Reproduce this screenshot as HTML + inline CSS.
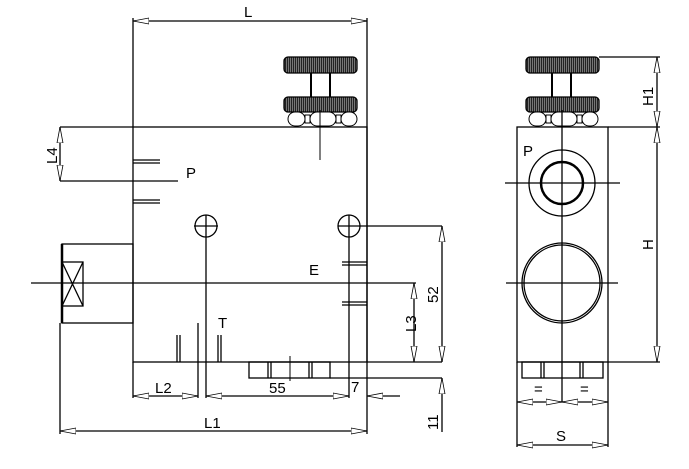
<!DOCTYPE html>
<html><head><meta charset="utf-8"><style>
html,body{margin:0;padding:0;background:#fff;width:689px;height:469px;overflow:hidden}
svg{display:block}
text{font-family:"Liberation Sans",sans-serif;font-size:15px;fill:#000}
</style></head><body>
<svg width="689" height="469" viewBox="0 0 689 469" xmlns="http://www.w3.org/2000/svg">
<defs>
<pattern id="kn" width="2" height="10" patternUnits="userSpaceOnUse"><rect width="2" height="10" fill="#222"/><rect width="0.7" height="10" fill="#999"/></pattern>
<marker id="a" markerWidth="16" markerHeight="8" refX="0" refY="4" orient="auto" markerUnits="userSpaceOnUse"><path d="M0,4 L16,1 L16,7 Z" fill="#fff" stroke="#000" stroke-width="0.8"/></marker>
<marker id="b" markerWidth="16" markerHeight="8" refX="16" refY="4" orient="auto" markerUnits="userSpaceOnUse"><path d="M16,4 L0,1 L0,7 Z" fill="#fff" stroke="#000" stroke-width="0.8"/></marker>
<g id="nuts" stroke="#000" stroke-width="1" fill="#fff">
<rect x="0" y="1" width="17" height="14" rx="7"/>
<rect x="17" y="4" width="5" height="8"/>
<rect x="22" y="1" width="26" height="14" rx="7"/>
<rect x="48" y="4" width="5" height="8"/>
<rect x="53" y="1" width="16" height="14" rx="7"/>
</g>
</defs>
<g stroke="#000" stroke-width="1.3" fill="none">
<!-- LEFT VIEW -->
<rect x="133" y="127" width="234" height="235"/>
<line x1="133" y1="18" x2="133" y2="127"/>
<line x1="367" y1="18" x2="367" y2="434"/>
<line x1="133" y1="21" x2="367" y2="21" marker-start="url(#a)" marker-end="url(#b)"/>
<!-- knob -->
<rect x="284" y="57" width="73" height="16" rx="4" fill="url(#kn)"/>
<rect x="284" y="97" width="73" height="15" rx="4" fill="url(#kn)"/>
<line x1="311" y1="73" x2="311" y2="97" stroke-width="2"/>
<line x1="330" y1="73" x2="330" y2="97" stroke-width="2"/>
<use href="#nuts" x="288" y="111"/>
<line x1="320" y1="110" x2="320" y2="160" stroke-width="1"/>
<!-- L4 -->
<line x1="60" y1="127" x2="133" y2="127"/>
<line x1="60" y1="181" x2="178" y2="181"/>
<line x1="60" y1="127" x2="60" y2="181" marker-start="url(#a)" marker-end="url(#b)"/>
<line x1="133" y1="160" x2="160" y2="160"/><line x1="133" y1="163" x2="160" y2="163"/>
<line x1="133" y1="200" x2="160" y2="200"/><line x1="133" y1="203" x2="160" y2="203"/>
<!-- holes -->
<circle cx="206" cy="226" r="11"/><line x1="194" y1="226" x2="218" y2="226"/>
<circle cx="349" cy="226" r="11"/><line x1="338" y1="226" x2="442" y2="226"/>
<line x1="206" y1="215" x2="206" y2="398"/>
<line x1="349" y1="215" x2="349" y2="398"/>
<!-- left plug -->
<rect x="62" y="244" width="71" height="79"/>
<line x1="62" y1="244" x2="62" y2="323" stroke-width="2.5"/>
<rect x="62" y="262" width="21" height="44"/>
<line x1="62" y1="262" x2="83" y2="306"/><line x1="83" y1="262" x2="62" y2="306"/>
<line x1="31" y1="283" x2="416" y2="283"/>
<line x1="342" y1="262" x2="367" y2="262"/><line x1="342" y1="265" x2="367" y2="265"/>
<line x1="342" y1="302" x2="367" y2="302"/><line x1="342" y1="305" x2="367" y2="305"/>
<line x1="414" y1="283" x2="414" y2="362" marker-start="url(#a)" marker-end="url(#b)"/>
<line x1="442" y1="226" x2="442" y2="362" marker-start="url(#a)" marker-end="url(#b)"/>
<line x1="367" y1="362" x2="442" y2="362"/>
<!-- bottom plug -->
<rect x="249" y="362" width="81" height="16"/>
<line x1="268" y1="362" x2="268" y2="378"/><line x1="271" y1="362" x2="271" y2="378"/>
<line x1="309" y1="362" x2="309" y2="378"/><line x1="312" y1="362" x2="312" y2="378"/>
<line x1="290" y1="356" x2="290" y2="381" stroke-width="1"/>
<line x1="330" y1="378" x2="442" y2="378"/>
<line x1="442" y1="378" x2="442" y2="432" marker-start="url(#a)"/>
<!-- T marks -->
<line x1="177" y1="335" x2="177" y2="362"/><line x1="180" y1="335" x2="180" y2="362"/>
<line x1="198" y1="323" x2="198" y2="398"/>
<line x1="218" y1="335" x2="218" y2="362"/><line x1="221" y1="335" x2="221" y2="362"/>
<line x1="133" y1="362" x2="133" y2="398"/>
<line x1="133" y1="396" x2="198" y2="396" marker-start="url(#a)" marker-end="url(#b)"/>
<line x1="206" y1="396" x2="349" y2="396" marker-start="url(#a)" marker-end="url(#b)"/>
<line x1="367" y1="396" x2="400" y2="396" marker-start="url(#a)"/>
<line x1="60" y1="323" x2="60" y2="434"/>
<line x1="60" y1="431" x2="367" y2="431" marker-start="url(#a)" marker-end="url(#b)"/>
<!-- RIGHT VIEW -->
<rect x="517" y="127" width="91" height="235"/>
<rect x="526" y="57" width="73" height="16" rx="4" fill="url(#kn)"/>
<rect x="526" y="97" width="73" height="15" rx="4" fill="url(#kn)"/>
<line x1="552" y1="73" x2="552" y2="97" stroke-width="2"/>
<line x1="571" y1="73" x2="571" y2="97" stroke-width="2"/>
<use href="#nuts" x="529" y="111"/>
<line x1="599" y1="57" x2="660" y2="57"/>
<line x1="608" y1="127" x2="660" y2="127"/>
<line x1="608" y1="362" x2="660" y2="362"/>
<line x1="657" y1="57" x2="657" y2="127" marker-start="url(#a)" marker-end="url(#b)"/>
<line x1="657" y1="127" x2="657" y2="362" marker-start="url(#a)" marker-end="url(#b)"/>
<circle cx="562" cy="183" r="33"/>
<circle cx="562" cy="183" r="21" stroke-width="2.5"/>
<line x1="505" y1="183" x2="620" y2="183"/>
<circle cx="562" cy="283" r="40"/><circle cx="562" cy="283" r="38"/>
<line x1="506" y1="283" x2="618" y2="283"/>
<line x1="562" y1="110" x2="562" y2="402"/>
<rect x="522" y="362" width="81" height="16"/>
<line x1="541" y1="362" x2="541" y2="378"/><line x1="544" y1="362" x2="544" y2="378"/>
<line x1="580" y1="362" x2="580" y2="378"/><line x1="583" y1="362" x2="583" y2="378"/>
<line x1="517" y1="362" x2="517" y2="447"/>
<line x1="608" y1="362" x2="608" y2="447"/>
<line x1="517" y1="402" x2="562" y2="402" marker-start="url(#a)" marker-end="url(#b)"/>
<line x1="562" y1="402" x2="608" y2="402" marker-start="url(#a)" marker-end="url(#b)"/>
<line x1="517" y1="445" x2="608" y2="445" marker-start="url(#a)" marker-end="url(#b)"/>
</g>
<text x="244" y="17">L</text>
<text x="186" y="178">P</text>
<text x="309" y="275">E</text>
<text x="218" y="328">T</text>
<text x="155" y="393">L2</text>
<text x="269" y="393">55</text>
<text x="351" y="392">7</text>
<text x="204" y="428">L1</text>
<text x="523" y="156">P</text>
<text x="534" y="394">=</text>
<text x="580" y="394">=</text>
<text x="556" y="441">S</text>
<text transform="translate(57,164) rotate(-90)">L4</text>
<text transform="translate(416,332) rotate(-90)">L3</text>
<text transform="translate(438,303) rotate(-90)">52</text>
<text transform="translate(438,430) rotate(-90)">11</text>
<text transform="translate(653,106) rotate(-90)">H1</text>
<text transform="translate(653,250) rotate(-90)">H</text>
</svg>
</body></html>
